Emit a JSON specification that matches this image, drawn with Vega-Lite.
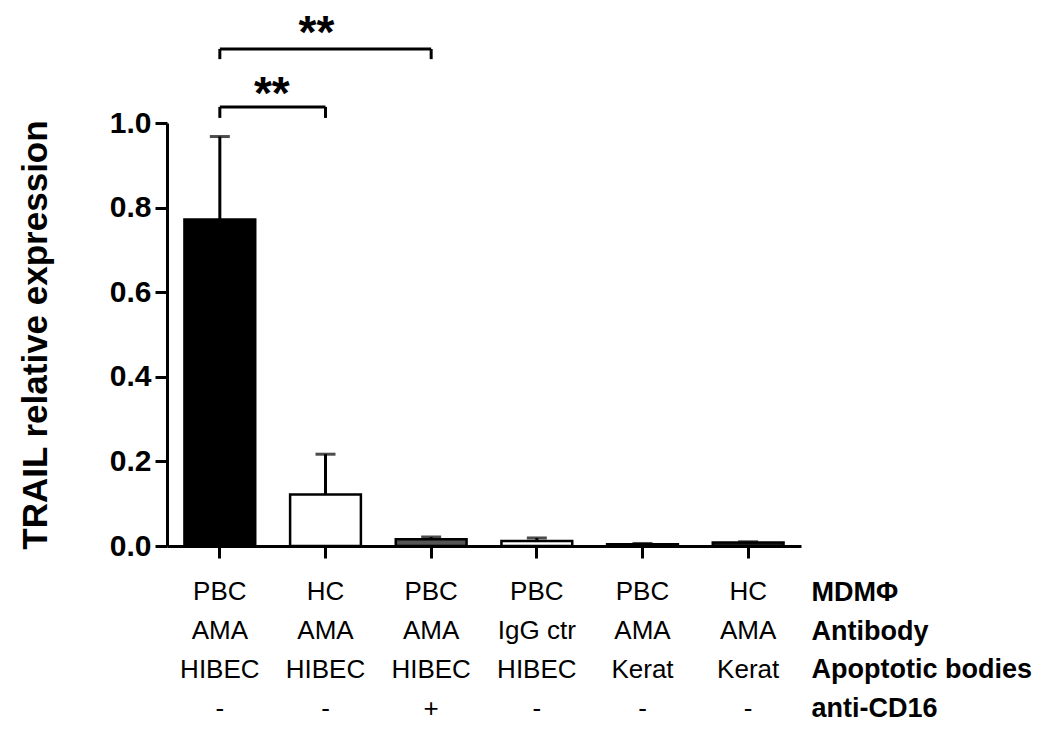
{
  "$schema": "https://vega.github.io/schema/vega-lite/v6.json",
  "background": "white",
  "padding": {"left": 18, "top": 10, "right": 2, "bottom": 2},
  "config": {"view": {"stroke": null}, "font": "Liberation Sans", "concat": {"spacing": 12}},
  "datasets": {
    "bars": [
      {"cond": "c1", "mean": 0.772, "upper": 0.968},
      {"cond": "c2", "mean": 0.122, "upper": 0.217},
      {"cond": "c3", "mean": 0.016, "upper": 0.021},
      {"cond": "c4", "mean": 0.012, "upper": 0.019},
      {"cond": "c5", "mean": 0.004, "upper": 0.006},
      {"cond": "c6", "mean": 0.008, "upper": 0.010}
    ],
    "table": [
      {"cond": "c1", "row": "MDMΦ", "label": "PBC"},
      {"cond": "c2", "row": "MDMΦ", "label": "HC"},
      {"cond": "c3", "row": "MDMΦ", "label": "PBC"},
      {"cond": "c4", "row": "MDMΦ", "label": "PBC"},
      {"cond": "c5", "row": "MDMΦ", "label": "PBC"},
      {"cond": "c6", "row": "MDMΦ", "label": "HC"},
      {"cond": "c1", "row": "Antibody", "label": "AMA"},
      {"cond": "c2", "row": "Antibody", "label": "AMA"},
      {"cond": "c3", "row": "Antibody", "label": "AMA"},
      {"cond": "c4", "row": "Antibody", "label": "IgG ctr"},
      {"cond": "c5", "row": "Antibody", "label": "AMA"},
      {"cond": "c6", "row": "Antibody", "label": "AMA"},
      {"cond": "c1", "row": "Apoptotic  bodies", "label": "HIBEC"},
      {"cond": "c2", "row": "Apoptotic  bodies", "label": "HIBEC"},
      {"cond": "c3", "row": "Apoptotic  bodies", "label": "HIBEC"},
      {"cond": "c4", "row": "Apoptotic  bodies", "label": "HIBEC"},
      {"cond": "c5", "row": "Apoptotic  bodies", "label": "Kerat"},
      {"cond": "c6", "row": "Apoptotic  bodies", "label": "Kerat"},
      {"cond": "c1", "row": "anti-CD16", "label": "-"},
      {"cond": "c2", "row": "anti-CD16", "label": "-"},
      {"cond": "c3", "row": "anti-CD16", "label": "+"},
      {"cond": "c4", "row": "anti-CD16", "label": "-"},
      {"cond": "c5", "row": "anti-CD16", "label": "-"},
      {"cond": "c6", "row": "anti-CD16", "label": "-"}
    ],
    "brackets": [
      {"from": "c1", "to": "c2", "y": 1.038, "yb": 1.012},
      {"from": "c1", "to": "c3", "y": 1.175, "yb": 1.151}
    ],
    "starsLow": [{"cond": "c1", "y": 1.034, "t": "**"}],
    "starsHigh": [{"cond": "c2", "y": 1.178, "t": "**"}]
  },
  "vconcat": [
    {
      "width": 634,
      "height": 423,
      "layer": [
        {
          "data": {"name": "bars"},
          "mark": {"type": "bar", "stroke": "black", "strokeWidth": 2.5},
          "encoding": {
            "x": {
              "field": "cond", "type": "nominal",
              "scale": {"domain": ["c1", "c2", "c3", "c4", "c5", "c6"], "paddingInner": 0.33, "paddingOuter": 0.165},
              "axis": {"labels": false, "title": null, "ticks": true, "tickSize": 12, "tickWidth": 3, "tickColor": "black", "domainWidth": 3, "domainColor": "black"}
            },
            "y": {
              "field": "mean", "type": "quantitative",
              "scale": {"domain": [0, 1], "nice": false},
              "axis": {
                "values": [0, 0.2, 0.4, 0.6, 0.8, 1.0], "format": ".1f", "grid": false,
                "tickSize": 12, "tickWidth": 3, "tickColor": "black", "domainWidth": 3, "domainColor": "black",
                "labelFontSize": 30, "labelFontWeight": "bold", "labelColor": "black", "labelPadding": 4,
                "title": "TRAIL relative expression", "titleFontSize": 35, "titleFontWeight": "bold", "titleColor": "black", "titlePadding": 56
              }
            },
            "color": {
              "field": "cond", "type": "nominal",
              "scale": {"domain": ["c1", "c2", "c3", "c4", "c5", "c6"], "range": ["#000000", "#ffffff", "#555555", "#ffffff", "#555555", "#222222"]},
              "legend": null
            }
          }
        },
        {
          "data": {"name": "bars"},
          "mark": {"type": "rule", "strokeWidth": 3, "color": "black"},
          "encoding": {
            "x": {"field": "cond", "type": "nominal"},
            "y": {"field": "mean", "type": "quantitative"},
            "y2": {"field": "upper"}
          }
        },
        {
          "data": {"name": "bars"},
          "mark": {"type": "tick", "thickness": 3, "size": 20, "color": "black"},
          "encoding": {
            "x": {"field": "cond", "type": "nominal"},
            "y": {"field": "upper", "type": "quantitative"}
          }
        },
        {
          "data": {"name": "brackets"},
          "mark": {"type": "rule", "strokeWidth": 3, "color": "black"},
          "encoding": {
            "x": {"field": "from", "type": "nominal"},
            "x2": {"field": "to"},
            "y": {"field": "y", "type": "quantitative"}
          }
        },
        {
          "data": {"name": "brackets"},
          "mark": {"type": "rule", "strokeWidth": 3, "color": "black"},
          "encoding": {
            "x": {"field": "from", "type": "nominal"},
            "y": {"field": "y", "type": "quantitative"},
            "y2": {"field": "yb"}
          }
        },
        {
          "data": {"name": "brackets"},
          "mark": {"type": "rule", "strokeWidth": 3, "color": "black"},
          "encoding": {
            "x": {"field": "to", "type": "nominal"},
            "y": {"field": "y", "type": "quantitative"},
            "y2": {"field": "yb"}
          }
        },
        {
          "data": {"name": "starsLow"},
          "mark": {"type": "text", "fontSize": 46, "fontWeight": "bold", "baseline": "alphabetic", "dx": 52, "color": "black"},
          "encoding": {
            "x": {"field": "cond", "type": "nominal"},
            "y": {"field": "y", "type": "quantitative"},
            "text": {"field": "t"}
          }
        },
        {
          "data": {"name": "starsHigh"},
          "mark": {"type": "text", "fontSize": 46, "fontWeight": "bold", "baseline": "alphabetic", "dx": -9, "color": "black"},
          "encoding": {
            "x": {"field": "cond", "type": "nominal"},
            "y": {"field": "y", "type": "quantitative"},
            "text": {"field": "t"}
          }
        }
      ]
    },
    {
      "width": 634,
      "height": 155,
      "data": {"name": "table"},
      "mark": {"type": "text", "fontSize": 26, "color": "black"},
      "encoding": {
        "x": {
          "field": "cond", "type": "nominal",
          "scale": {"domain": ["c1", "c2", "c3", "c4", "c5", "c6"], "paddingInner": 0.33, "paddingOuter": 0.165},
          "axis": null
        },
        "y": {
          "field": "row", "type": "nominal",
          "scale": {"domain": ["MDMΦ", "Antibody", "Apoptotic  bodies", "anti-CD16"]},
          "axis": {"orient": "right", "domain": false, "ticks": false, "title": null, "labelFontSize": 27, "labelFontWeight": "bold", "labelColor": "black", "labelPadding": 10, "labelLimit": 0}
        },
        "text": {"field": "label"}
      }
    }
  ]
}
